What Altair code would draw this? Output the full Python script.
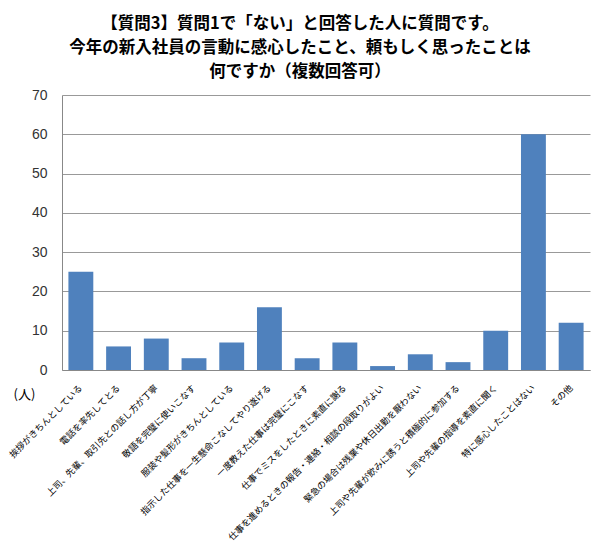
import altair as alt
import pandas as pd

categories = [
    "挨拶がきちんとしている",
    "電話を率先してとる",
    "上司、先輩、取引先との話し方が丁寧",
    "敬語を完璧に使いこなす",
    "服装や髪形がきちんとしている",
    "指示した仕事を一生懸命こなしてやり遂げる",
    "一度教えた仕事は完璧にこなす",
    "仕事でミスをしたときに素直に謝る",
    "仕事を進めるときの報告・連絡・相談の段取りがよい",
    "緊急の場合は残業や休日出勤を厭わない",
    "上司や先輩が飲みに誘うと積極的に参加する",
    "上司や先輩の指導を素直に聞く",
    "特に感心したことはない",
    "その他",
]
values = [25, 6, 8, 3, 7, 16, 3, 7, 1, 4, 2, 10, 60, 12]
y_ticks = [0, 10, 20, 30, 40, 50, 60, 70]

df = pd.DataFrame({"item": categories, "count": values})

FONT = "Noto Sans CJK JP"

chart = (
    alt.Chart(df)
    .mark_bar(color="#4F81BD")
    .encode(
        x=alt.X(
            "item:N",
            sort=categories,
            title=None,
            scale=alt.Scale(paddingInner=0.34, paddingOuter=0.17),
            axis=alt.Axis(
                labelAngle=-45,
                labelAlign="right",
                labelBaseline="middle",
                labelFont=FONT,
                labelFontSize=9,
                labelColor="#000000",
                labelPadding=16,
                labelLimit=400,
                ticks=False,
                domainColor="#888888",
                grid=False,
            ),
        ),
        y=alt.Y(
            "count:Q",
            title="(人)",
            scale=alt.Scale(domain=[0, 70], nice=False),
            axis=alt.Axis(
                values=y_ticks,
                labelFont="Liberation Sans",
                labelFontSize=14,
                labelColor="#333333",
                labelPadding=15,
                ticks=False,
                domainColor="#888888",
                gridColor="#999999",
                titleAngle=0,
                titleFont=FONT,
                titleFontWeight="normal",
                titleFontSize=13,
                titleColor="#000000",
                titleX=-38,
                titleY=306,
                titleAlign="center",
            ),
        ),
    )
    .properties(
        width=528,
        height=275,
        title=alt.TitleParams(
            text=[
                "【質問3】質問1で「ない」と回答した人に質問です。",
                "今年の新入社員の言動に感心したこと、頼もしく思ったことは",
                "何ですか（複数回答可）",
            ],
            font=FONT,
            fontSize=16.5,
            fontWeight="bold",
            color="#000000",
            anchor="middle",
            lineHeight=24,
            offset=8,
            dx=-26,
        ),
        autosize=alt.AutoSizeParams(type="none"),
        padding={"left": 54, "top": 87, "right": 2, "bottom": 172},
    )
    .configure_view(stroke=None)
)

chart.save("out.html", embed_options={"renderer": "svg", "actions": False})
